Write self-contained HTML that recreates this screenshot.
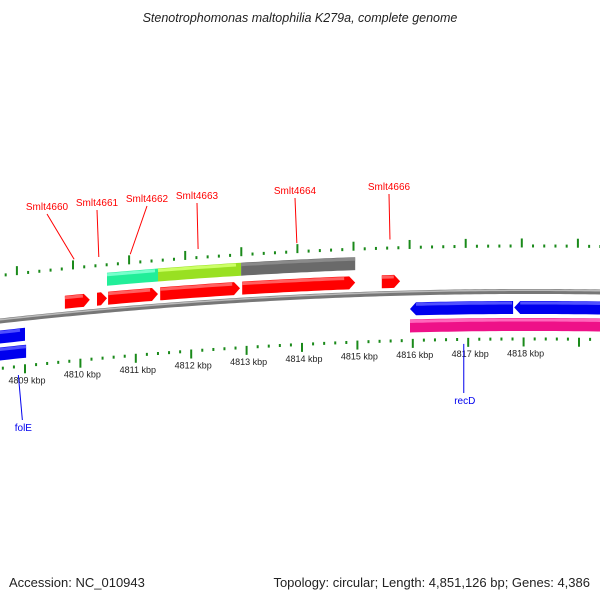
<!DOCTYPE html>
<html><head><meta charset="utf-8"><style>
html,body{margin:0;padding:0;background:#fff}
svg{display:block;font-family:"Liberation Sans","DejaVu Sans",sans-serif}
</style></head><body>
<svg id="c" width="600" height="600" viewBox="0 0 600 600">
<text x="300" y="22" text-anchor="middle" font-size="12.5" font-style="italic" fill="#222">Stenotrophomonas maltophilia K279a, complete genome</text>
<text x="9" y="587" font-size="13" fill="#222">Accession: NC_010943</text>
<text x="590" y="587" text-anchor="end" font-size="13" fill="#222">Topology: circular; Length: 4,851,126 bp; Genes: 4,386</text>
<g id="g"></g>
</svg>
<script>
// data
const kbpLabels = [4809,4810,4811,4812,4813,4814,4815,4816,4817,4818];
const geneStart = [4809.72,4810.30,4810.50,4811.44,4812.92,4815.44, 4810.48,4811.40,4812.90, 4808.3,4808.3, 4815.95,4817.83, 4815.95];
const geneEnd   = [4810.17,4810.48,4811.40,4812.88,4814.96,4815.77, 4811.40,4812.90,4814.96, 4809.0,4809.02, 4817.81,4819.9, 4819.9];
const geneTrack = ["fwd","fwd","fwd","fwd","fwd","fwd","top","top","top","rev","rev2","rev","rev","rev2"];
const geneColor = ["#f00","#f00","#f00","#f00","#f00","#f00","#22ee99","#99e022","#6a6a6a","#0000ee","#0000ee","#0000ee","#0000ee","#ee1188"];
const geneArrow = ["r","r","r","r","r","r","","","","","","l","l",""];
const labelNames = ["Smlt4660","Smlt4661","Smlt4662","Smlt4663","Smlt4664","Smlt4666"];
const labelGene  = [4810.02,4810.46,4811.02,4812.23,4813.99,4815.65];
const labelTextX = [47,97,147,197,295,389];
const labelTextY = [210,206,202,199,194,190];
const revLabels = ["folE","recD"];
const revLabelKbp = [4808.88,4816.92];

const g = document.getElementById('g');
const NS = 'http://www.w3.org/2000/svg';
function bb(x){return 321 - 0.1117*x + 1.056e-4*x*x;}
function xOf(k){return 25 + (k-4809)*55.4;}
function xTop(k){return 73 + (k-4810)*56.1;}
const off = {fwd:-12, top:-31, rev:16, rev2:33};
function el(t,a){const e=document.createElementNS(NS,t);for(const k in a)e.setAttribute(k,a[k]);g.appendChild(e);return e;}

let d='';
for(let x=-5;x<=605;x+=5){d+=(x===-5?'M':'L')+x+','+bb(x).toFixed(2);}
const back=el('path',{d:d,stroke:'#777',"stroke-width":5,fill:'none'});


const back2=el('path',{d:d,stroke:'#bbb',"stroke-width":1.5,fill:'none',transform:'translate(0,-1.2)'});



for(let i=0;i<=60;i++){
  const k=4808.2+i*0.2;
  const major=Math.abs(k-Math.round(k))<0.01;
  const xb=xOf(k), yb=bb(xb)+46;
  const t=el('line',{x1:xb,y1:yb,x2:xb,y2:yb+(major?9:3),stroke:'#1a8a1a',"stroke-width":2});
  
  
  const xt=xTop(k), yt=bb(xt)-44;
  const t2=el('line',{x1:xt,y1:yt,x2:xt,y2:yt-(major?9:3),stroke:'#1a8a1a',"stroke-width":2});
  
  
}
kbpLabels.forEach(k=>{
  const x=xOf(k);
  const t=el('text',{x:x+2,y:bb(x)+65,"font-size":9,"text-anchor":"middle",fill:'#222'});
  t.textContent=k+' kbp';
  
  
});

function lighten(c){return c==='#f00'?'#ff6060':c==='#0000ee'?'#5050ff':c==='#ee1188'?'#ff66bb':c==='#6a6a6a'?'#8a8a8a':c==='#22ee99'?'#77ffcc':'#ccff66';}
geneStart.forEach((s,i)=>{
  const x1=Math.max(-10,xOf(s)), x2=Math.min(610,xOf(geneEnd[i]));
  const o=off[geneTrack[i]], h=6.5, ar=geneArrow[i], a=6;
  const ax1=ar==='l'?x1+a:x1, ax2=ar==='r'?x2-a:x2;
  let pts=[];
  if(ar==='l')pts.push([x1,bb(x1)+o]);
  for(let x=ax1;x<ax2;x+=6)pts.push([x,bb(x)+o-h]);
  pts.push([ax2,bb(ax2)+o-h]);
  if(ar==='r')pts.push([x2,bb(x2)+o]);
  pts.push([ax2,bb(ax2)+o+h]);
  for(let x=ax2;x>ax1;x-=6)pts.push([x,bb(x)+o+h]);
  pts.push([ax1,bb(ax1)+o+h]);
  const p=el('polygon',{points:pts.map(q=>q[0].toFixed(1)+','+q[1].toFixed(1)).join(' '),fill:geneColor[i]});
  
  
  let hl='';
  for(let x=ax1;x<=ax2;x+=6)hl+=(x===ax1?'M':'L')+x.toFixed(1)+','+(bb(x)+o-h+2).toFixed(1);
  const q=el('path',{d:hl,stroke:lighten(geneColor[i]),"stroke-width":3,fill:'none'});
  
  
});

labelNames.forEach((n,i)=>{
  const gx=xTop(labelGene[i]), gy=bb(gx)-54;
  const l=el('line',{x1:labelTextX[i]+(gx>labelTextX[i]+10?0:0),y1:labelTextY[i]+4,x2:gx,y2:gy,stroke:'#f00',"stroke-width":1});
  
  
  const t=el('text',{x:labelTextX[i],y:labelTextY[i],"font-size":10,"text-anchor":"middle",fill:'#f00'});
  t.textContent=n;
  
  
});
revLabels.forEach((n,i)=>{
  const x=xOf(revLabelKbp[i]), y=bb(x)+52;
  const ty=i===0?431:404;
  const endX=i===0?x+4:x;
  const l=el('line',{x1:x,y1:y+(i===0?4:0),x2:endX,y2:ty-11,stroke:'#0000ee',"stroke-width":1});
  
  
  const t=el('text',{x:endX+1,y:ty,"font-size":10,"text-anchor":"middle",fill:'#0000ee'});
  t.textContent=n;
  
  
});
</script>
</body></html>
